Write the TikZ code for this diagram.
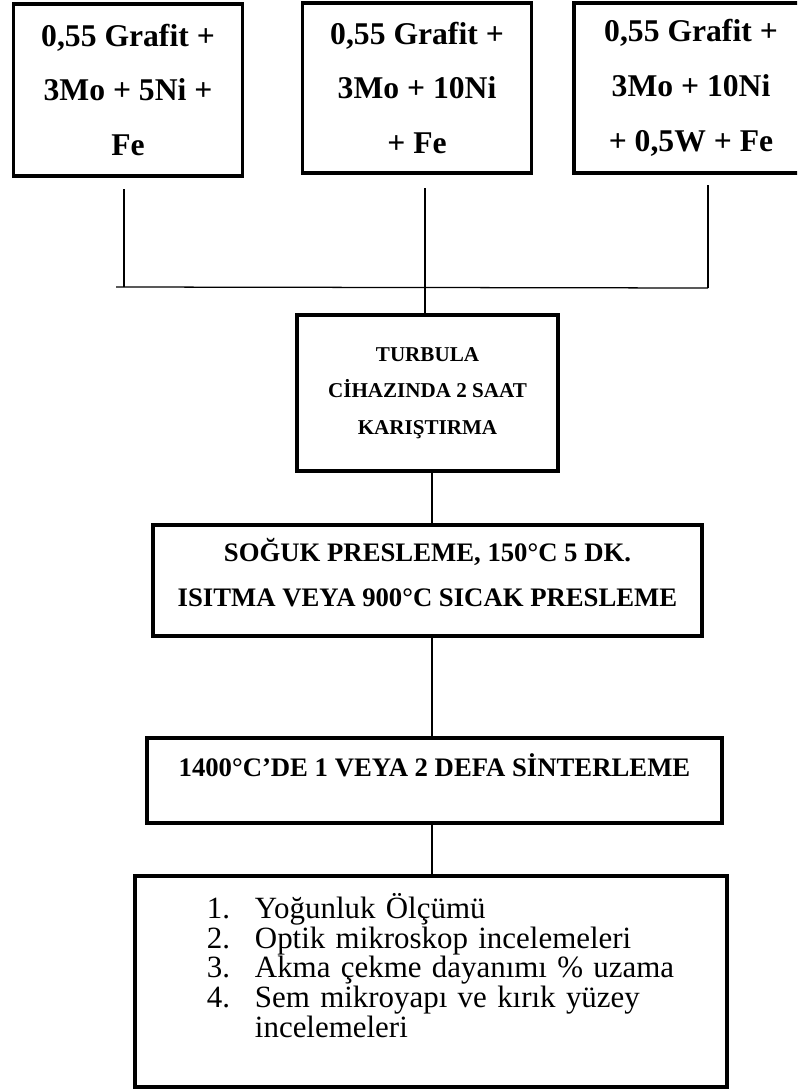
\documentclass[tikz,border=0pt]{standalone}
\usepackage{fontspec}
\setmainfont{Liberation Serif}

\begin{document}
\begin{tikzpicture}[x=0.025cm,y=-0.025cm,
  box/.style={draw,line width=2.6pt,rectangle,align=center,inner sep=0pt},
  mix/.style={box,minimum width=5.72cm,minimum height=4.3cm,
    font=\bfseries\fontsize{22.5}{39}\selectfont},
  link/.style={line width=0.9pt}]
\useasboundingbox (0,0) rectangle (797,1090);
\clip (0,0) rectangle (797,1090);

% starting mixtures
\node[mix] (mixA) at (128,90) {0,55 Grafit +\\3Mo + 5Ni +\\Fe};
\node[mix,minimum height=4.25cm] (mixB) at (417,88) {0,55 Grafit +\\3Mo + 10Ni\\+ Fe};
\node[mix,minimum height=4.25cm,minimum width=5.85cm] (mixC) at (691,88) {0,55 Grafit +\\3Mo + 10Ni\\+ 0,5W + Fe};

% process steps
\node[box,minimum width=6.525cm,minimum height=3.9cm,
  font=\bfseries\fontsize{15}{26}\selectfont] (turbula) at (427.5,393)
  {TURBULA\\CİHAZINDA 2 SAAT\\KARIŞTIRMA};
\node[box,minimum width=13.725cm,minimum height=2.775cm,text depth=11pt,
  font=\bfseries\fontsize{19}{32}\selectfont] (press) at (427.5,580.5)
  {SOĞUK PRESLEME, 150°C 5 DK.\\ISITMA VEYA 900°C SICAK PRESLEME};
\node[box,minimum width=14.375cm,minimum height=2.125cm,text height=12pt,text depth=18.4pt,
  font=\bfseries\fontsize{19}{32}\selectfont] (sinter) at (434.5,780.5)
  {1400°C’DE 1 VEYA 2 DEFA SİNTERLEME};
\node[box,minimum width=14.8cm,minimum height=5.275cm,text width=11.2cm,align=left,
  font=\fontsize{22}{19.8}\selectfont] (tests) at (431,981.5)
  {\begin{tabular}{@{}p{1.2cm}@{}l@{}}
   1. & Yoğunluk Ölçümü\\
   2. & Optik mikroskop incelemeleri\\
   3. & Akma çekme dayanımı \% uzama\\
   4. & Sem mikroyapı ve kırık yüzey\\
      & incelemeleri\\[17pt]
   \end{tabular}};

% connectors
\coordinate (dropA) at (124,189);
\coordinate (dropB) at (425,188);
\coordinate (dropC) at (708,185);
\coordinate (busL) at (116,287);
\coordinate (busR) at (708,288);
\coordinate (spine) at (432,0);
\draw[link] (busL) -- (busR);
\draw[link] (dropA) -- (dropA |- busL);
\draw[link] (dropB) -- (dropB |- turbula.north);
\draw[link] (dropC) -- (busR);
\draw[link] (turbula.south -| spine) -- (press.north -| spine);
\draw[link] (press.south -| spine) -- (sinter.north -| spine);
\draw[link] (sinter.south -| spine) -- (tests.north -| spine);
\end{tikzpicture}
\end{document}
